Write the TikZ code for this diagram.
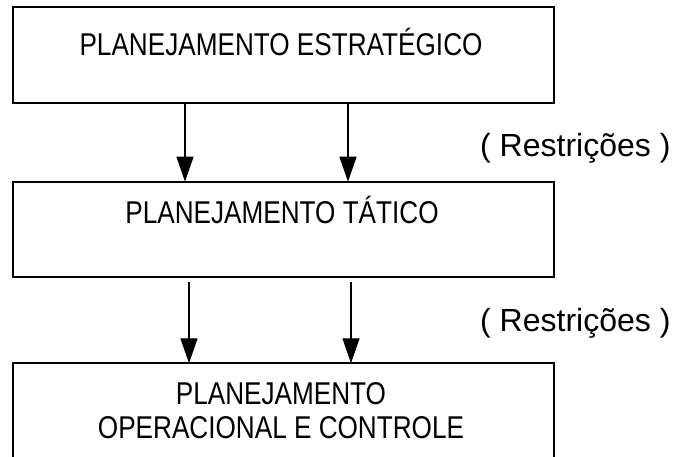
\documentclass[tikz,border=0pt]{standalone}
\usepackage{fontspec}
\setmainfont{Liberation Sans}
\newfontfamily\estreita{Liberation Sans}[FakeStretch=0.83]
\usetikzlibrary{arrows.meta}

\tikzset{
	caixa/.style={draw, line width=2pt, minimum width=541pt, inner sep=0pt, outer sep=0pt},
	rotulo/.style={font=\estreita\fontsize{31.5}{34}\selectfont, inner sep=0pt, anchor=base},
	restr/.style={font=\fontsize{32}{35}\selectfont, inner sep=0pt, anchor=base west},
	seta/.style={line width=1.3pt, -{Triangle[length=25pt,width=17pt]}}
}

\begin{document}
\begin{tikzpicture}[x=1pt,y=-1pt]
	\path[use as bounding box, clip] (0,0) rectangle (678,457);
	
	%boxes
	\node[caixa, minimum height=95.3pt] (estrategico) at (283.5,55.15) {};
	\node[caixa, minimum height=95pt]   (tatico)      at (283.3,229.2) {};
	\node[caixa, minimum height=120pt]  (operacional) at (283,423.3)   {};
	
	%labels
	\node[rotulo] (tEstrategico)  at (281,56)    {PLANEJAMENTO ESTRATÉGICO};
	\node[rotulo] (tTatico)       at (282,224)   {PLANEJAMENTO TÁTICO};
	\node[rotulo] (tOperacional)  at (281,404)   {PLANEJAMENTO};
	\node[rotulo] (tOperacional2) at (281,438)   {OPERACIONAL E CONTROLE};
	%
	\node[restr] (restricoes1) at (480,157) {( Restrições )};
	\node[restr] (restricoes2) at (480,331) {( Restrições )};
	
	%arrows
	\draw[seta] (estrategico.south -| 185,0) -- (tatico.north -| 185,0);
	\draw[seta] (estrategico.south -| 348,0) -- (tatico.north -| 348,0);
	\coordinate (saida1) at (189,281.7);
	\coordinate (saida2) at (351,281.7);
	\draw[seta] (saida1) -- (operacional.north -| saida1);
	\draw[seta] (saida2) -- (operacional.north -| saida2);
\end{tikzpicture}
\end{document}
